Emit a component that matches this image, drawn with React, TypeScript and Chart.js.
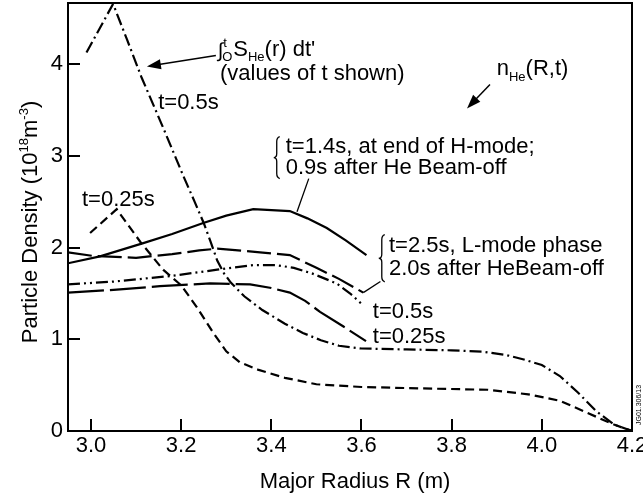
import React, { useEffect, useRef } from "react";
import { Chart, registerables } from "chart.js";

Chart.register(...registerables);

const FONT = "'Liberation Sans', Arial, Helvetica, sans-serif";

// Axis ranges and tick labels
const X_MIN = 2.949;
const X_MAX = 4.2;
const Y_MIN = 0;
const Y_MAX = 4.67;
const xTickValues = [3.0, 3.2, 3.4, 3.6, 3.8, 4.0, 4.2];
const yTickValues = [0, 1, 2, 3, 4];

// Integral of source, t = 0.5 s (dash-dot)
const srcT05R = [2.99, 3.049, 3.08, 3.112, 3.16, 3.205, 3.23, 3.25, 3.265, 3.28, 3.295, 3.31, 3.34, 3.38, 3.43, 3.47, 3.51, 3.55, 3.6, 3.7, 3.8, 3.87, 3.92, 3.96, 4.0, 4.04, 4.08, 4.12, 4.16, 4.2];
const srcT05N = [4.13, 4.66, 4.27, 3.86, 3.31, 2.78, 2.5, 2.27, 2.07, 1.86, 1.72, 1.62, 1.47, 1.32, 1.17, 1.07, 0.99, 0.93, 0.9, 0.89, 0.88, 0.865, 0.83, 0.78, 0.72, 0.6, 0.42, 0.22, 0.07, 0.0];

// Integral of source, t = 0.25 s (dashed)
const srcT025R = [2.998, 3.057, 3.11, 3.16, 3.2, 3.235, 3.27, 3.3, 3.33, 3.37, 3.43, 3.5, 3.6, 3.73, 3.88, 3.97, 4.04, 4.1, 4.16, 4.2];
const srcT025N = [2.16, 2.42, 2.06, 1.76, 1.59, 1.35, 1.08, 0.87, 0.75, 0.67, 0.58, 0.51, 0.48, 0.465, 0.45, 0.4, 0.33, 0.2, 0.07, 0.0];

// n_He, t = 1.4 s (solid)
const nT14R = [2.949, 3.02, 3.116, 3.18, 3.249, 3.3, 3.36, 3.441, 3.48, 3.523, 3.565, 3.611];
const nT14N = [1.83, 1.905, 2.05, 2.15, 2.27, 2.35, 2.42, 2.4, 2.32, 2.215, 2.08, 1.92];

// n_He, t = 2.5 s (long dash)
const nT25R = [2.949, 3.005, 3.1, 3.18, 3.24, 3.28, 3.375, 3.441, 3.5, 3.55, 3.604];
const nT25N = [1.95, 1.91, 1.89, 1.93, 1.97, 1.99, 1.95, 1.92, 1.78, 1.66, 1.51];

// n_He, t = 0.5 s (dash-dot-dot)
const nT05R = [2.949, 3.05, 3.175, 3.28, 3.36, 3.41, 3.45, 3.49, 3.545, 3.575, 3.604];
const nT05N = [1.6, 1.63, 1.69, 1.76, 1.81, 1.81, 1.78, 1.72, 1.61, 1.5, 1.37];

// n_He, t = 0.25 s (long dash, short gaps)
const nT025R = [2.949, 3.05, 3.153, 3.264, 3.353, 3.4, 3.441, 3.475, 3.508, 3.56, 3.61];
const nT025N = [1.51, 1.54, 1.58, 1.61, 1.6, 1.56, 1.51, 1.42, 1.3, 1.14, 0.98];

const pts = (r: number[], n: number[]) => r.map((x, i) => ({ x, y: n[i] }));

type Seg = { t: string; size: number; dy?: number };

function drawRich(ctx: CanvasRenderingContext2D, segs: Seg[], x: number, y: number) {
  let cx = x;
  for (const s of segs) {
    ctx.font = `${s.size}px ${FONT}`;
    ctx.fillText(s.t, cx, y + (s.dy || 0));
    cx += ctx.measureText(s.t).width;
  }
  return cx;
}

function richWidth(ctx: CanvasRenderingContext2D, segs: Seg[]) {
  let w = 0;
  for (const s of segs) {
    ctx.font = `${s.size}px ${FONT}`;
    w += ctx.measureText(s.t).width;
  }
  return w;
}

function arrow(ctx: CanvasRenderingContext2D, x1: number, y1: number, x2: number, y2: number) {
  const a = Math.atan2(y2 - y1, x2 - x1);
  const L = 14, W = 5;
  ctx.beginPath();
  ctx.moveTo(x1, y1);
  ctx.lineTo(x2 - Math.cos(a) * (L - 2), y2 - Math.sin(a) * (L - 2));
  ctx.stroke();
  ctx.beginPath();
  ctx.moveTo(x2, y2);
  ctx.lineTo(x2 - Math.cos(a) * L - Math.sin(a) * W, y2 - Math.sin(a) * L + Math.cos(a) * W);
  ctx.lineTo(x2 - Math.cos(a) * L + Math.sin(a) * W, y2 - Math.sin(a) * L - Math.cos(a) * W);
  ctx.closePath();
  ctx.fill();
}

function brace(ctx: CanvasRenderingContext2D, x: number, top: number, bottom: number) {
  const mid = (top + bottom) / 2;
  ctx.beginPath();
  ctx.moveTo(x + 3, top);
  ctx.quadraticCurveTo(x, top + 1, x, top + 5);
  ctx.lineTo(x, mid - 4);
  ctx.quadraticCurveTo(x, mid, x - 3, mid);
  ctx.quadraticCurveTo(x, mid, x, mid + 4);
  ctx.lineTo(x, bottom - 5);
  ctx.quadraticCurveTo(x, bottom - 1, x + 3, bottom);
  ctx.stroke();
}

const decor = {
  id: "decor",
  afterDraw(chart: any) {
    const { ctx, chartArea: ca, scales } = chart;
    const X = (r: number) => scales.x.getPixelForValue(r);
    const Y = (v: number) => scales.y.getPixelForValue(v);
    ctx.save();
    ctx.strokeStyle = "#000";
    ctx.fillStyle = "#000";
    ctx.lineWidth = 2;
    ctx.strokeRect(ca.left, ca.top, ca.right - ca.left, ca.bottom - ca.top);
    ctx.beginPath();
    for (const v of xTickValues) {
      const px = Math.round(X(v));
      ctx.moveTo(px, ca.bottom);
      ctx.lineTo(px, ca.bottom - 12);
    }
    for (const v of yTickValues) {
      const py = Math.round(Y(v));
      ctx.moveTo(ca.left, py);
      ctx.lineTo(ca.left + 12, py);
    }
    ctx.stroke();

    ctx.textBaseline = "alphabetic";
    ctx.textAlign = "left";

    // integral label
    {
      const x0 = X(3.281), y0 = Y(4.087);
      ctx.font = `20px ${FONT}`;
      ctx.fillText("\u222B", x0, y0 + 1);
      const w = ctx.measureText("\u222B").width;
      ctx.font = `13px ${FONT}`;
      ctx.fillText("t", x0 + w, y0 - 9);
      ctx.fillText("O", x0 + w - 1, y0 + 5);
      const wo = ctx.measureText("O").width;
      drawRich(ctx, [
        { t: "S", size: 22 },
        { t: "He", size: 13, dy: 5 },
        { t: "(r) dt'", size: 22 },
      ], x0 + w + wo, y0);
      ctx.font = `22px ${FONT}`;
      ctx.fillText("(values of t shown)", X(3.286), Y(3.826));
    }
    ctx.lineWidth = 1.5;
    arrow(ctx, X(3.277), Y(4.098), X(3.124), Y(3.978));

    ctx.font = `22px ${FONT}`;
    ctx.fillText("t=0.5s", X(3.149), Y(3.508));
    ctx.fillText("t=0.25s", X(2.98), Y(2.459));

    // n_He(R,t)
    drawRich(ctx, [
      { t: "n", size: 22 },
      { t: "He", size: 13, dy: 6 },
      { t: "(R,t)", size: 22 },
    ], X(3.9), Y(3.88));
    arrow(ctx, X(3.885), Y(3.78), X(3.834), Y(3.52));

    // t = 1.4 s group
    ctx.lineWidth = 1.3;
    brace(ctx, X(3.412), Y(3.213), Y(2.754));
    ctx.beginPath();
    ctx.moveTo(X(3.457), Y(2.393));
    ctx.lineTo(X(3.483), Y(2.754));
    ctx.stroke();
    ctx.font = `22px ${FONT}`;
    ctx.fillText("t=1.4s, at end of H-mode;", X(3.432), Y(3.038));
    ctx.fillText("0.9s after He Beam-off", X(3.432), Y(2.809));

    // t = 2.5 s group
    brace(ctx, X(3.645), Y(2.142), Y(1.628));
    ctx.beginPath();
    ctx.moveTo(X(3.604), Y(1.51));
    ctx.lineTo(X(3.642), Y(1.632));
    ctx.stroke();
    ctx.fillText("t=2.5s, L-mode phase", X(3.661), Y(1.956));
    ctx.fillText("2.0s after HeBeam-off", X(3.661), Y(1.705));

    ctx.fillText("t=0.5s", X(3.625), Y(1.235));
    ctx.fillText("t=0.25s", X(3.625), Y(0.962));

    // axis titles
    ctx.font = `22px ${FONT}`;
    ctx.textAlign = "center";
    ctx.fillText("Major Radius R (m)", (ca.left + ca.right) / 2 + 5, 488);
    ctx.textAlign = "left";

    const ySegs: Seg[] = [
      { t: "Particle Density (10", size: 22 },
      { t: "18", size: 13, dy: -9 },
      { t: "m", size: 22 },
      { t: "-3", size: 13, dy: -9 },
      { t: ")", size: 22 },
    ];
    ctx.save();
    ctx.translate(37, (ca.top + ca.bottom) / 2 + 5);
    ctx.rotate(-Math.PI / 2);
    const yw = richWidth(ctx, ySegs);
    drawRich(ctx, ySegs, -yw / 2, 0);
    ctx.restore();

    // figure code
    ctx.save();
    ctx.translate(641, 405);
    ctx.rotate(-Math.PI / 2);
    ctx.font = `7px ${FONT}`;
    ctx.textAlign = "center";
    ctx.fillText("JG01.306/13", 0, 0);
    ctx.restore();

    ctx.restore();
  },
};

function line(data: { x: number; y: number }[], dash: number[]) {
  return {
    data,
    borderColor: "#000",
    borderWidth: 2.2,
    borderDash: dash,
    pointRadius: 0,
    tension: 0,
    fill: false,
  };
}

export default function App() {
  const ref = useRef<HTMLCanvasElement>(null);
  useEffect(() => {
    const chart = new Chart(ref.current as HTMLCanvasElement, {
      type: "line",
      data: {
        datasets: [
          line(pts(srcT05R, srcT05N), [12, 4, 2, 4]),
          line(pts(srcT025R, srcT025N), [9, 5]),
          line(pts(nT14R, nT14N), []),
          line(pts(nT25R, nT25N), [24, 6]),
          line(pts(nT05R, nT05N), [12, 4, 2, 4, 2, 4]),
          line(pts(nT025R, nT025N), [36, 6]),
        ] as any,
      },
      options: {
        animation: false,
        responsive: false,
        events: [],
        layout: { padding: { left: 0, right: 11, top: 3, bottom: 0 } },
        plugins: { legend: { display: false }, tooltip: { enabled: false } },
        scales: {
          x: {
            type: "linear",
            min: X_MIN,
            max: X_MAX,
            afterBuildTicks: (s: any) => {
              s.ticks = xTickValues.map((value) => ({ value }));
            },
            afterFit: (s: any) => {
              s.height = 69;
              s.paddingLeft = 0;
              s.paddingRight = 0;
            },
            grid: { display: false, drawTicks: false },
            border: { display: false },
            ticks: {
              color: "#000",
              font: { family: FONT, size: 22 },
              padding: 2,
              maxRotation: 0,
              autoSkip: false,
              callback: (v: any) => Number(v).toFixed(1),
            },
          },
          y: {
            type: "linear",
            min: Y_MIN,
            max: Y_MAX,
            afterBuildTicks: (s: any) => {
              s.ticks = yTickValues.map((value) => ({ value }));
            },
            afterFit: (s: any) => {
              s.width = 68;
              s.paddingTop = 0;
              s.paddingBottom = 0;
            },
            grid: { display: false, drawTicks: false },
            border: { display: false },
            ticks: {
              color: "#000",
              font: { family: FONT, size: 22 },
              padding: 5,
              autoSkip: false,
              callback: (v: any) => String(v),
            },
          },
        },
      },
      plugins: [decor],
    } as any);
    return () => chart.destroy();
  }, []);
  return (
    <div style={{ position: "fixed", left: 0, top: 0, width: 643, height: 500, background: "#fff" }}>
      <canvas ref={ref} width={643} height={500} style={{ display: "block", width: 643, height: 500 }} />
    </div>
  );
}
